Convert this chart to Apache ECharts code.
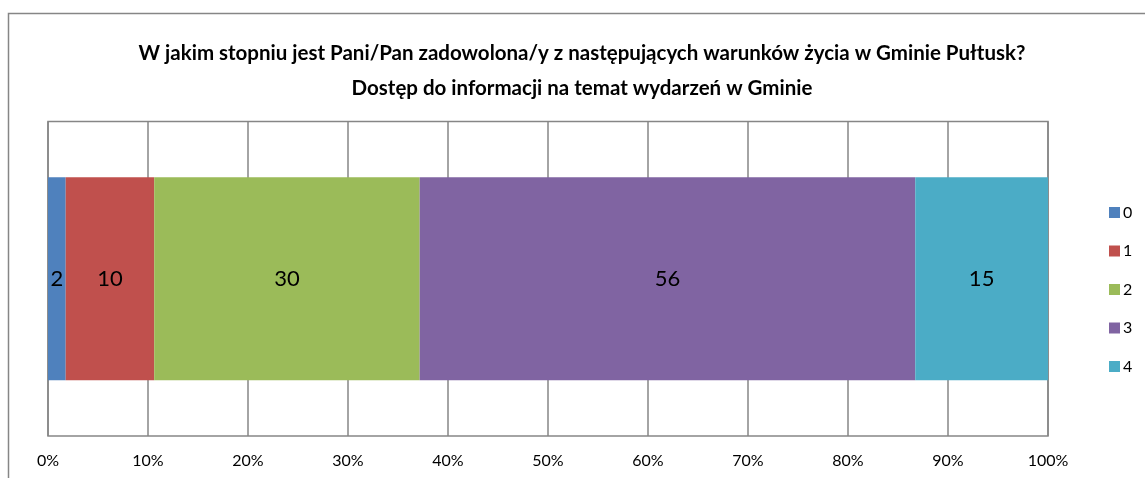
<!DOCTYPE html>
<html><head><meta charset="utf-8">
<script src="https://cdn.jsdelivr.net/npm/echarts@6/dist/echarts.min.js"></script>
<style>html,body{margin:0;padding:0;background:#fff}#c{width:1145px;height:478px}</style>
</head><body><div id="c"></div>
<script>
const titleLines = ["W jakim stopniu jest Pani/Pan zadowolona/y z następujących warunków życia w Gminie Pułtusk?", "Dostęp do informacji na temat wydarzeń w Gminie"];
const seriesNames = ["0", "1", "2", "3", "4"];
const seriesValues = [2, 10, 30, 56, 15];
const seriesColors = ["#4F81BD", "#C0504D", "#9BBB59", "#8064A2", "#4BACC6"];
const xTicks = [0, 10, 20, 30, 40, 50, 60, 70, 80, 90, 100];

const total = seriesValues.reduce((a, b) => a + b, 0);
const FONT = "Lato";
const chart = echarts.init(document.getElementById('c'), null, {renderer: 'canvas'});
chart.setOption({
  animation: false,
  backgroundColor: '#fff',
  textStyle: {fontFamily: FONT},
  title: {
    text: titleLines.join('\n'),
    left: 577, textAlign: 'center', top: 31,
    textStyle: {fontFamily: FONT, fontSize: 20.5, fontWeight: 'bold', color: '#000', lineHeight: 35}
  },
  graphic: [{
    type: 'rect', shape: {x: 8.5, y: 13.5, width: 1160, height: 480},
    style: {fill: 'none', stroke: '#868686', lineWidth: 1.5}, silent: true
  }],
  legend: {
    orient: 'vertical', left: 1109, top: 204.5, itemWidth: 11, itemHeight: 11, itemGap: 22.5,
    icon: 'rect', data: seriesNames, padding: 0,
    textStyle: {fontFamily: FONT, fontSize: 16, lineHeight: 16, color: '#000', padding: [0, 0, 0, -2]}
  },
  grid: {left: 48, right: 97, top: 121.5, bottom: 42, show: true, borderColor: '#868686', borderWidth: 1.5, containLabel: false},
  xAxis: {
    type: 'value', min: 0, max: 100, interval: 10,
    axisLine: {show: false}, axisTick: {show: false},
    splitLine: {show: true, lineStyle: {color: '#868686', width: 1.5}},
    axisLabel: {formatter: v => xTicks.includes(v) ? v + '%' : '', color: '#000', fontSize: 16, fontFamily: FONT, margin: 17}
  },
  yAxis: {
    type: 'category', data: [''],
    axisLine: {show: false}, axisTick: {show: false}, axisLabel: {show: false}, splitLine: {show: false}
  },
  series: seriesNames.map((n, i) => ({
    name: n, type: 'bar', stack: 'all', barWidth: '64.5%',
    itemStyle: {color: seriesColors[i]},
    label: {show: true, position: 'inside', formatter: () => String(seriesValues[i]), color: '#000', fontSize: 22, fontFamily: FONT},
    data: [seriesValues[i] / total * 100]
  }))
});
</script></body></html>
